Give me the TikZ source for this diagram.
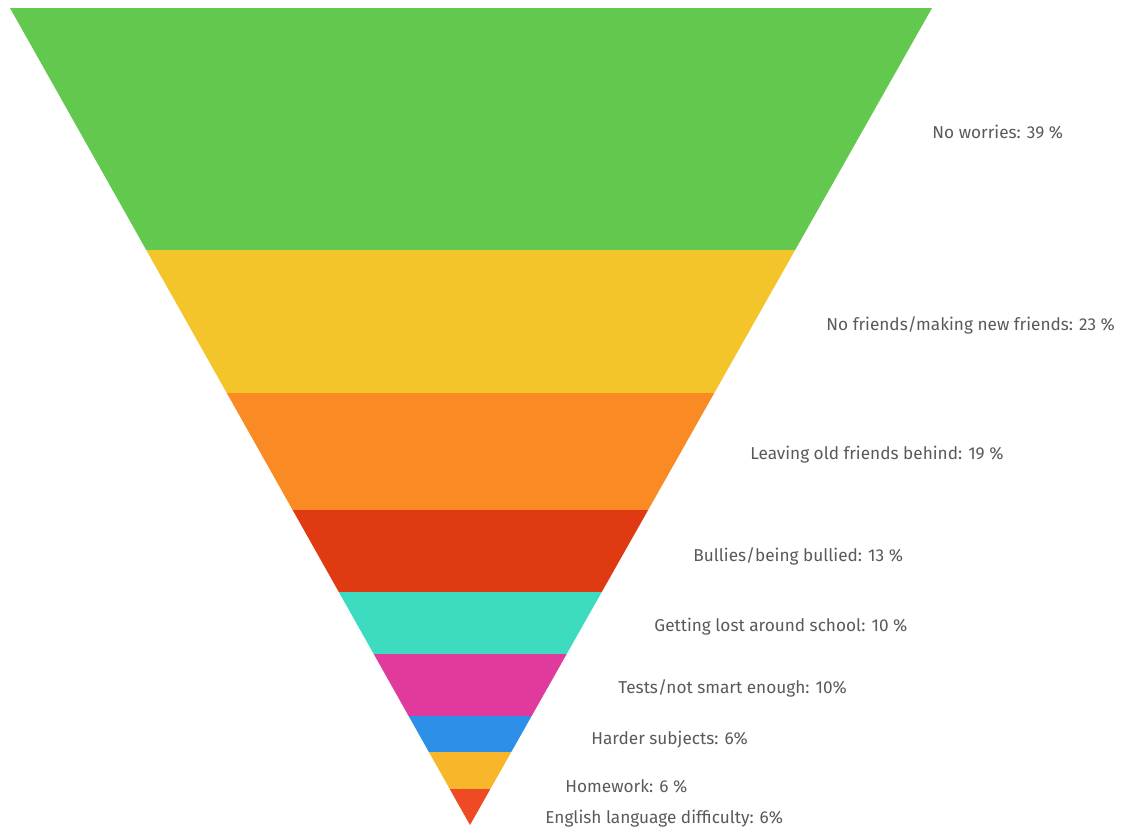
\documentclass[tikz,border=0pt]{standalone}
\usepackage{fontspec}
\setmainfont{Fira Sans}
\usetikzlibrary{positioning}
\definecolor{worrygreen}{HTML}{63C94E}
\definecolor{friendyellow}{HTML}{F4C52A}
\definecolor{leaveorange}{HTML}{F98A24}
\definecolor{bullyred}{HTML}{E03A12}
\definecolor{lostteal}{HTML}{3DDBC0}
\definecolor{testpink}{HTML}{E03A9C}
\definecolor{subjectblue}{HTML}{2E8FE8}
\definecolor{homeamber}{HTML}{F8B62B}
\definecolor{englishred}{HTML}{EE4B24}
\definecolor{labelgrey}{HTML}{5A5A5A}
\tikzset{
  bandlabel/.style={anchor=west, inner sep=0pt, text=labelgrey,
    font=\fontsize{8.6}{9}\selectfont}
}

\begin{document}
\begin{tikzpicture}[x=0.5pt,y=-0.5pt]
  \useasboundingbox[fill=white] (0,0) rectangle (1129,832);
  % funnel bands, clipped to the triangle
  \begin{scope}
    \clip (10,8) -- (932,8) -- (470,825) -- cycle;
    \foreach \ytop/\ybot/\col in {8/250/worrygreen, 250/393/friendyellow,
        393/510/leaveorange, 510/592/bullyred, 592/654/lostteal,
        654/716/testpink, 716/752/subjectblue, 752/789/homeamber,
        789/826/englishred}
      \fill[\col] (0,\ytop) rectangle (1129,\ybot);
  \end{scope}
  % labels
  \node[bandlabel] (worries) at (932,132) {No worries: 39 \%};
  \node[bandlabel] (friends) at (826,325) {No friends/making new friends: 23 \%};
  \node[bandlabel] (leaving) at (750,455) {Leaving old friends behind: 19 \%};
  \node[bandlabel] (bullies) at (693,556) {Bullies/being bullied: 13 \%};
  \node[bandlabel] (lost) at (654,627) {Getting lost around school: 10 \%};
  \node[bandlabel] (tests) at (618,688) {Tests/not smart enough: 10\%};
  \node[bandlabel] (harder) at (591,740) {Harder subjects: 6\%};
  \node[bandlabel] (homework) at (565,786) {Homework: 6 \%};
  \node[bandlabel] (english) at (545,819) {English language difficulty: 6\%};
\end{tikzpicture}
\end{document}
